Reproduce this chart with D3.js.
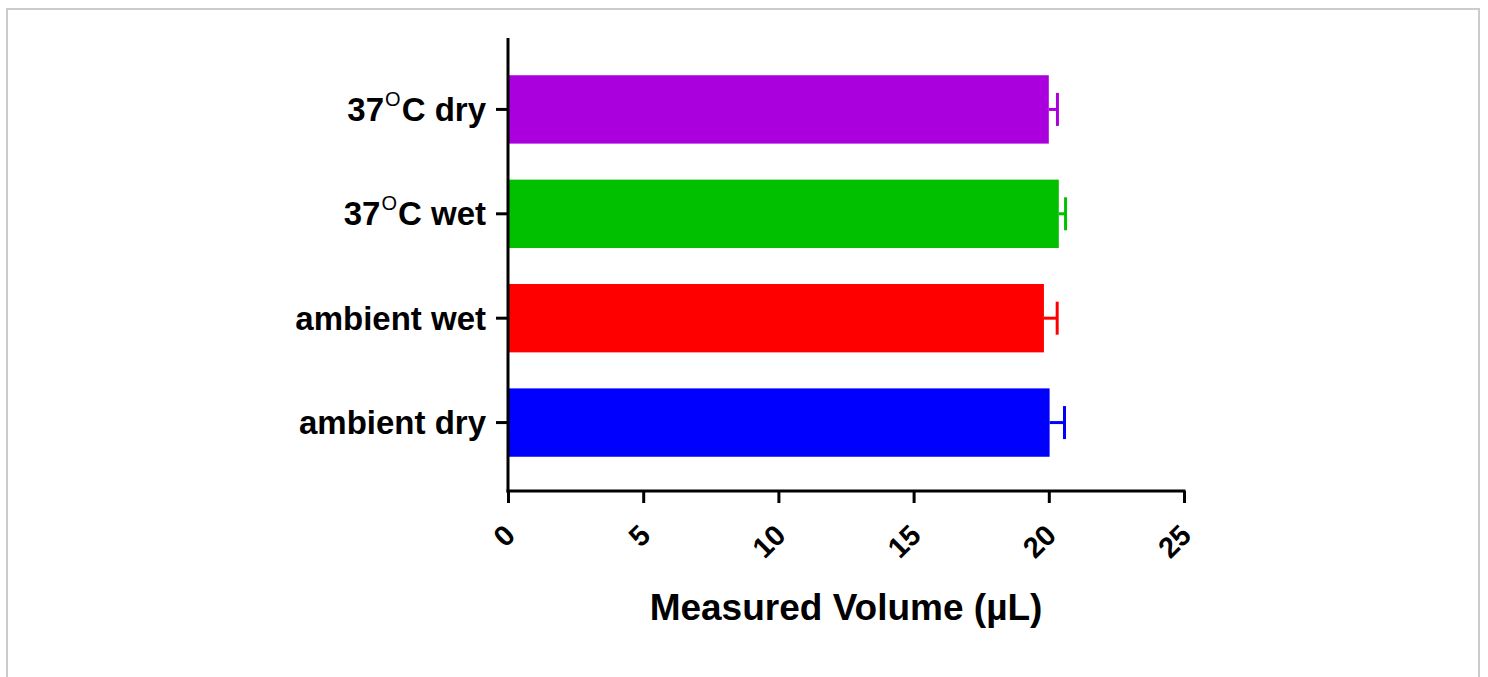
<!DOCTYPE html>
<html>
<head>
<meta charset="utf-8">
<script src="https://cdn.jsdelivr.net/npm/d3@7"></script>
<style>
  body { margin: 0; background: #fff; }
  text { font-family: "Liberation Sans", Arial, sans-serif; font-weight: bold; fill: #000; }
</style>
</head>
<body>
<div id="container"></div>
<script>
// data, top to bottom
const categories = ["37°C dry", "37°C wet", "ambient wet", "ambient dry"];
const means = [20.0, 20.37, 19.82, 20.03];
const errors = [0.32, 0.25, 0.49, 0.55];
const colors = ["#aa00dd", "#00c000", "#ff0000", "#0000ff"];
const xTicks = [0, 5, 10, 15, 20, 25];

const width = 1488;
const height = 677;

const svg = d3.select("#container").append("svg")
    .attr("width", width)
    .attr("height", height);

// frame
svg.append("rect")
    .attr("x", 7).attr("y", 9)
    .attr("width", 1472).attr("height", 700)
    .attr("fill", "none")
    .attr("stroke", "#cccccc")
    .attr("stroke-width", 2);

const x = d3.scaleLinear().domain([0, 25]).range([508, 1184]);
const y = d3.scaleBand().domain(categories).range([57.5, 474.5]).paddingInner(0.345).paddingOuter(0.17);

const rows = categories.map((c, i) => ({ cat: c, mean: means[i], err: errors[i], color: colors[i] }));

// bars
svg.append("g")
    .selectAll("rect")
    .data(rows)
    .join("rect")
    .attr("x", x(0))
    .attr("y", d => y(d.cat))
    .attr("width", d => x(d.mean) - x(0))
    .attr("height", y.bandwidth())
    .attr("fill", d => d.color);

// error bars
const eb = svg.append("g").attr("stroke-width", 3);
eb.selectAll("line.stem")
    .data(rows)
    .join("line")
    .attr("class", "stem")
    .attr("x1", d => x(d.mean))
    .attr("x2", d => x(d.mean + d.err))
    .attr("y1", d => y(d.cat) + y.bandwidth() / 2)
    .attr("y2", d => y(d.cat) + y.bandwidth() / 2)
    .attr("stroke", d => d.color);
eb.selectAll("line.cap")
    .data(rows)
    .join("line")
    .attr("class", "cap")
    .attr("x1", d => x(d.mean + d.err))
    .attr("x2", d => x(d.mean + d.err))
    .attr("y1", d => y(d.cat) + y.bandwidth() / 2 - 16.5)
    .attr("y2", d => y(d.cat) + y.bandwidth() / 2 + 16.5)
    .attr("stroke", d => d.color);

// x axis
const xAxis = svg.append("g")
    .attr("transform", "translate(0,491)")
    .call(d3.axisBottom(x).tickValues(xTicks).tickSize(12).tickSizeOuter(0).tickFormat(""));
xAxis.selectAll("path, line").attr("stroke", "#000").attr("stroke-width", 3);
xAxis.select(".domain").attr("d", `M${x(0) - 1.5},0H${x(25) + 1.5}`);

svg.append("g")
    .selectAll("text")
    .data(xTicks)
    .join("text")
    .attr("transform", d => `translate(${x(d) + 9},537) rotate(-45)`)
    .attr("text-anchor", "end")
    .style("font-size", "29px")
    .text(d => d);

// y axis
const yAxis = svg.append("g")
    .attr("transform", `translate(${x(0)},0)`)
    .call(d3.axisLeft(y).tickSize(12).tickSizeOuter(0).tickFormat(""));
yAxis.selectAll("path, line").attr("stroke", "#000").attr("stroke-width", 3);
yAxis.select(".domain").attr("d", "M0,38V492.5");

const yLabels = svg.append("g")
    .selectAll("text")
    .data(categories)
    .join("text")
    .attr("x", 486)
    .attr("y", d => y(d) + y.bandwidth() / 2 + 11.5)
    .attr("text-anchor", "end")
    .style("font-size", "33px");

yLabels.each(function(d) {
    const t = d3.select(this);
    if (d.includes("°")) {
        const [pre, post] = d.split("°");
        t.append("tspan").text(pre);
        t.append("tspan")
            .attr("dy", -15)
            .attr("dx", 1)
            .style("font-size", "20px")
            .style("font-weight", "normal")
            .text("O");
        t.append("tspan").attr("dy", 15).attr("dx", 1).text(post);
    } else {
        t.text(d);
    }
});

// axis title
svg.append("text")
    .attr("x", (x(0) + x(25)) / 2)
    .attr("y", 620)
    .attr("text-anchor", "middle")
    .style("font-size", "37px")
    .text("Measured Volume (µL)");
</script>
</body>
</html>
